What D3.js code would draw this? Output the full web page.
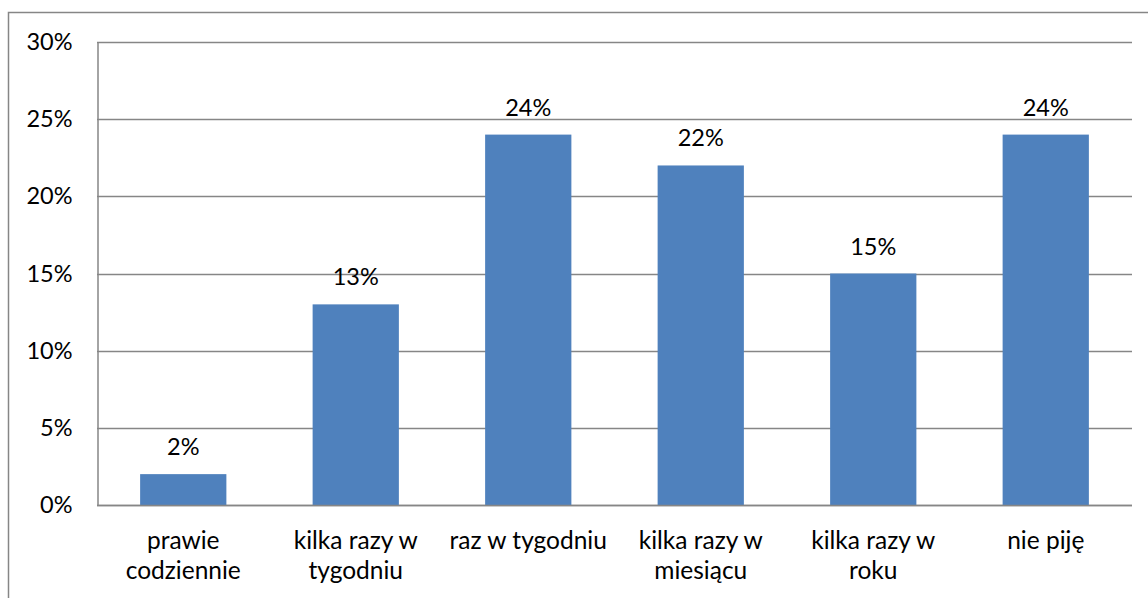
<!DOCTYPE html>
<html>
<head>
<meta charset="utf-8">
<script src="https://cdn.jsdelivr.net/npm/d3@7"></script>
<style>
  body { margin: 0; background: #fff; }
  text { font-family: Lato, "Open Sans", sans-serif; fill: #000; }
</style>
</head>
<body>
<div id="chart"></div>
<script>
// Data
const categories = [
  ['prawie', 'codziennie'],
  ['kilka razy w', 'tygodniu'],
  ['raz w tygodniu'],
  ['kilka razy w', 'miesiącu'],
  ['kilka razy w', 'roku'],
  ['nie piję']
];
const values = [2, 13, 24, 22, 15, 24];
const yTicks = [0, 5, 10, 15, 20, 25, 30];

const width = 1148;
const height = 598;
const margin = { top: 42, right: 16, bottom: 93, left: 97 };
const fontSize = 23.5;
const catFontSize = 24.5;
const gray = '#868686';

const svg = d3
  .select('#chart')
  .append('svg')
  .attr('width', width)
  .attr('height', height);

// outer frame (only left and top edges visible)
svg.append('rect')
  .attr('x', 8.5)
  .attr('y', 12.5)
  .attr('width', width + 20)
  .attr('height', height + 20)
  .attr('fill', 'none')
  .attr('stroke', gray)
  .attr('stroke-width', 1.5);

const x = d3.scaleBand()
  .domain(d3.range(categories.length))
  .range([margin.left, width - margin.right])
  .paddingInner(0.5)
  .paddingOuter(0.25);

const y = d3.scaleLinear()
  .domain([0, 30])
  .range([height - margin.bottom, margin.top]);

// Gridlines
svg.append('g')
  .selectAll('line')
  .data(yTicks)
  .enter()
  .append('line')
  .attr('x1', margin.left)
  .attr('x2', width - margin.right)
  .attr('y1', d => Math.round(y(d)) + 0.5)
  .attr('y2', d => Math.round(y(d)) + 0.5)
  .attr('stroke', gray)
  .attr('stroke-width', 1.5);

// Y axis
const yAxis = d3.axisLeft(y)
  .tickValues(yTicks)
  .tickFormat(d => d + '%')
  .tickSize(0)
  .tickPadding(25);

const gy = svg.append('g')
  .attr('transform', `translate(${margin.left + 0.5},0)`)
  .call(yAxis);
gy.select('.domain').attr('stroke', gray).attr('stroke-width', 1.5);
gy.selectAll('text').style('font-size', fontSize + 'px').attr('font-family', null);

// Bars
svg.append('g')
  .selectAll('rect')
  .data(values)
  .enter()
  .append('rect')
  .attr('x', (d, i) => x(i))
  .attr('y', d => y(d))
  .attr('width', x.bandwidth())
  .attr('height', d => y(0) - y(d))
  .attr('fill', '#4F81BD');

// redraw baseline on top of bars
svg.append('line')
  .attr('x1', margin.left)
  .attr('x2', width - margin.right)
  .attr('y1', Math.round(y(0)) + 0.5)
  .attr('y2', Math.round(y(0)) + 0.5)
  .attr('stroke', gray)
  .attr('stroke-width', 1.5);

// Value labels
svg.append('g')
  .selectAll('text')
  .data(values)
  .enter()
  .append('text')
  .attr('x', (d, i) => x(i) + x.bandwidth() / 2)
  .attr('y', d => y(d) - 19)
  .attr('text-anchor', 'middle')
  .style('font-size', fontSize + 'px')
  .text(d => d + '%');

// Category labels
const cat = svg.append('g')
  .selectAll('text')
  .data(categories)
  .enter()
  .append('text')
  .attr('text-anchor', 'middle')
  .attr('x', (d, i) => x(i) + x.bandwidth() / 2)
  .attr('y', 549)
  .style('font-size', catFontSize + 'px');

cat.selectAll('tspan')
  .data(d => d)
  .enter()
  .append('tspan')
  .attr('x', function() { return d3.select(this.parentNode).attr('x'); })
  .attr('dy', (d, i) => i === 0 ? 0 : 30)
  .text(d => d);
</script>
</body>
</html>
